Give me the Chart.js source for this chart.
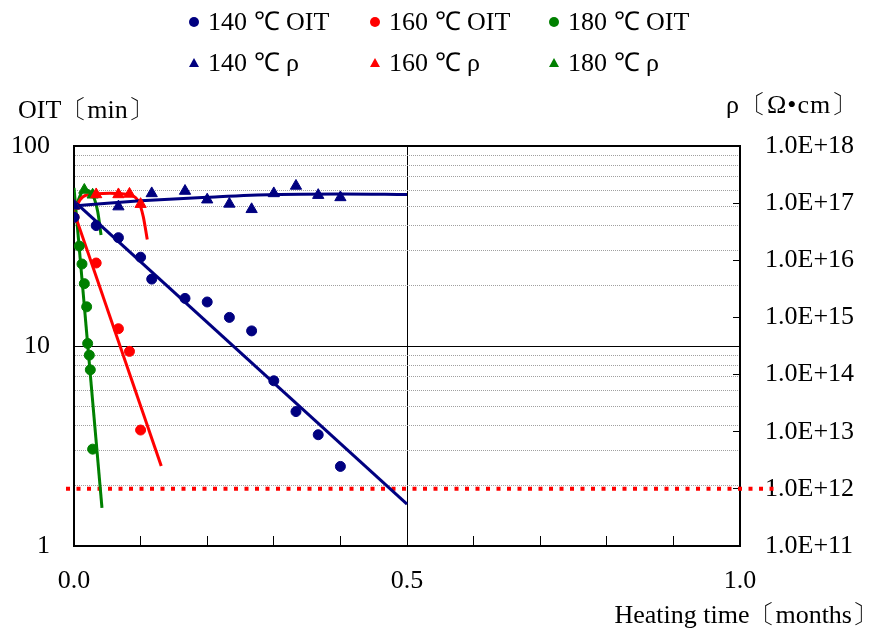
<!DOCTYPE html>
<html>
<head>
<meta charset="utf-8">
<script src="https://cdn.jsdelivr.net/npm/chart.js@4.4.1/dist/chart.umd.min.js"></script>
<style>
  html, body { margin: 0; padding: 0; background: #fff; }
  #wrap { position: relative; width: 871px; height: 631px; overflow: hidden; }
  #c { position: absolute; left: 0; top: 0; }
  .txt { position: absolute; font-family: 'Liberation Serif', 'Times New Roman', serif; font-size: 26px; color: #000; white-space: nowrap; line-height: 30px; }
  .mk { position: absolute; }
</style>
</head>
<body>
<div id="wrap">
  <canvas id="c" width="871" height="631"></canvas>
  <div id="legend"></div>
  <div class="txt" id="tL" style="left:18px; top:95px;"></div>
  <div class="txt" id="tR" style="left:726px; top:90px; letter-spacing:1px;"></div>
  <div class="txt" id="tX" style="right:-7px; top:600px;"></div>
</div>
<script>
// ---------- text ----------
const leftAxisTitle = 'OIT〔min〕';
const rightAxisTitle = 'ρ〔Ω•cm〕';
const xAxisTitle = 'Heating time〔months〕';

// ---------- ticks ----------
const xTickValues = [0, 0.1, 0.2, 0.3, 0.4, 0.5, 0.6, 0.7, 0.8, 0.9, 1.0];
const xLabelValues = [0, 0.5, 1.0];
const leftTickValues = [1, 2, 3, 4, 5, 6, 7, 8, 9, 10, 20, 30, 40, 50, 60, 70, 80, 90, 100];
const leftLabelValues = [1, 10, 100];
const rightTickValues = [1e11, 1e12, 1e13, 1e14, 1e15, 1e16, 1e17, 1e18];

// ---------- measured points (x in months) ----------
const oit140X = [0, 0.0333, 0.0667, 0.1, 0.1167, 0.1667, 0.2, 0.2333, 0.2667, 0.3, 0.3333, 0.3667, 0.4];
const oit140Y = [44, 40, 34.8, 27.8, 21.6, 17.3, 16.6, 13.9, 11.9, 6.7, 4.7, 3.6, 2.5];
const oit160X = [0, 0.0333, 0.0667, 0.0833, 0.1];
const oit160Y = [44, 26, 12.2, 9.4, 3.8];
const oit180X = [0, 0.008, 0.012, 0.0155, 0.019, 0.0205, 0.023, 0.0245, 0.028];
const oit180Y = [44, 31.6, 25.7, 20.5, 15.7, 10.3, 9.0, 7.6, 3.05];

const rho140X = [0, 0.0667, 0.1167, 0.1667, 0.2, 0.2333, 0.2667, 0.3, 0.3333, 0.3667, 0.4];
const rho140Y = [9e16, 8.7e16, 1.48e17, 1.63e17, 1.15e17, 9.7e16, 7.8e16, 1.48e17, 2.0e17, 1.38e17, 1.26e17];
const rho160X = [0, 0.0333, 0.0667, 0.0833, 0.1];
const rho160Y = [9e16, 1.42e17, 1.42e17, 1.45e17, 9.6e16];
const rho180X = [0, 0.0155, 0.028];
const rho180Y = [9e16, 1.7e17, 1.4e17];

// ---------- trend lines ----------
const fitOit140X = [0, 0.5];
const fitOit140Y = [53, 1.62];
const fitOit160X = [0, 0.131];
const fitOit160Y = [46.8, 2.51];
const fitOit180X = [0, 0.042];
const fitOit180Y = [61.7, 1.55];
const fitRho140X = [0, 0.05, 0.1, 0.2, 0.3, 0.4, 0.5];
const fitRho140Y = [8.9e16, 1.0e17, 1.1e17, 1.27e17, 1.42e17, 1.45e17, 1.41e17];
const fitRho160X = [0, 0.009, 0.019, 0.054, 0.084, 0.097, 0.104, 0.110];
const fitRho160Y = [6.6e16, 1.14e17, 1.39e17, 1.49e17, 1.39e17, 1.06e17, 5.8e16, 2.3e16];
const fitRho180X = [0, 0.0155, 0.028, 0.0356, 0.0406];
const fitRho180Y = [7.1e16, 1.7e17, 1.39e17, 7.1e16, 2.77e16];

// threshold (right axis)
const thresholdX = [-0.012, 1.058];
const thresholdValue = 1e12;

// ---------- series names / colours ----------
const seriesLabels = ['140 ℃ OIT', '160 ℃ OIT', '180 ℃ OIT', '140 ℃ ρ', '160 ℃ ρ', '180 ℃ ρ'];
const NAVY = '#000080', RED = '#FF0000', GREEN = '#008000';
const FONT = "'Liberation Serif', 'Times New Roman', serif";

const pts = (xs, ys) => xs.map((x, i) => ({x: x, y: ys[i]}));

function markerSet(label, xs, ys, color, axis, style) {
  return {
    label: label, data: pts(xs, ys), yAxisID: axis, showLine: false,
    pointStyle: style, pointRadius: style === 'triangle' ? 6.5 : 5,
    backgroundColor: color, borderColor: color, borderWidth: 1, order: 1
  };
}
function lineSet(xs, ys, color, axis, smooth) {
  return {
    label: '', data: pts(xs, ys), yAxisID: axis, showLine: true, pointRadius: 0,
    borderColor: color, backgroundColor: color, borderWidth: 3, fill: false,
    cubicInterpolationMode: smooth ? 'monotone' : 'default', tension: smooth ? 0.4 : 0,
    order: 2, isTrend: true
  };
}

const datasets = [
  markerSet(seriesLabels[0], oit140X, oit140Y, NAVY, 'yL', 'circle'),
  markerSet(seriesLabels[1], oit160X, oit160Y, RED, 'yL', 'circle'),
  markerSet(seriesLabels[2], oit180X, oit180Y, GREEN, 'yL', 'circle'),
  markerSet(seriesLabels[3], rho140X, rho140Y, NAVY, 'yR', 'triangle'),
  markerSet(seriesLabels[4], rho160X, rho160Y, RED, 'yR', 'triangle'),
  markerSet(seriesLabels[5], rho180X, rho180Y, GREEN, 'yR', 'triangle'),
  lineSet(fitOit140X, fitOit140Y, NAVY, 'yL', false),
  lineSet(fitOit160X, fitOit160Y, RED, 'yL', false),
  lineSet(fitOit180X, fitOit180Y, GREEN, 'yL', false),
  lineSet(fitRho140X, fitRho140Y, NAVY, 'yR', true),
  lineSet(fitRho160X, fitRho160Y, RED, 'yR', true),
  lineSet(fitRho180X, fitRho180Y, GREEN, 'yR', true),
  {
    label: '', data: thresholdX.map(x => ({x: x, y: thresholdValue})), yAxisID: 'yR',
    showLine: true, pointRadius: 0, borderColor: RED, borderWidth: 4,
    borderDash: [4, 6.5], borderCapStyle: 'butt', clip: false, order: 3, isTrend: true
  }
];

const near = (a, b) => Math.abs(a - b) < 1e-9 * Math.max(1, Math.abs(b));
const isIn = (arr, v) => arr.some(a => near(v, a));

const chart = new Chart(document.getElementById('c'), {
  type: 'scatter',
  data: { datasets: datasets },
  options: {
    responsive: false, animation: false, devicePixelRatio: 1, events: [],
    layout: { padding: { top: 146, left: 0, right: 0, bottom: 0 } },
    plugins: { legend: { display: false }, tooltip: { enabled: false } },
    scales: {
      x: {
        type: 'linear', position: 'bottom', min: 0, max: 1,
        afterBuildTicks: s => { s.ticks = xTickValues.map(v => ({value: v})); },
        afterFit: s => { s.height = 85; },
        ticks: {
          autoSkip: false, maxRotation: 0, color: '#000', padding: 30,
          font: { family: FONT, size: 26 },
          callback: v => isIn(xLabelValues, v) ? v.toFixed(1) : ''
        },
        grid: {
          color: c => (c.tick && near(c.tick.value, 0.5)) ? '#000' : 'rgba(0,0,0,0)',
          lineWidth: 1, tickColor: '#000', tickWidth: 1, tickLength: -10, drawTicks: true
        },
        border: { color: '#000', width: 2 }
      },
      yL: {
        type: 'logarithmic', position: 'left', min: 1, max: 100,
        afterBuildTicks: s => { s.ticks = leftTickValues.map(v => ({value: v, major: leftLabelValues.includes(v)})); },
        afterFit: s => { s.width = 74; },
        ticks: {
          autoSkip: false, color: '#000', padding: 24,
          font: { family: FONT, size: 26 },
          callback: v => isIn(leftLabelValues, v) ? String(v) : ''
        },
        grid: {
          drawTicks: false,
          color: c => {
            if (!c.tick) return '#000';
            const v = c.tick.value;
            if (near(v, 1)) return 'rgba(0,0,0,0)';
            if (near(v, 10) || near(v, 100)) return '#000';
            return '#a0a0a0';
          },
          lineWidth: c => (c.tick && near(c.tick.value, 100)) ? 2 : 1
        },
        border: {
          color: '#000', width: 2,
          dash: c => (!c.tick || isIn(leftLabelValues, c.tick.value)) ? [] : [1, 1]
        }
      },
      yR: {
        type: 'logarithmic', position: 'right', min: 1e11, max: 1e18,
        afterBuildTicks: s => { s.ticks = rightTickValues.map(v => ({value: v, major: true})); },
        afterFit: s => { s.width = 131; },
        ticks: {
          autoSkip: false, color: '#000', padding: 32,
          font: { family: FONT, size: 26 },
          callback: v => '1.0E+' + Math.round(Math.log10(v))
        },
        grid: {
          drawOnChartArea: false, drawTicks: true, tickLength: -7,
          tickColor: '#000', tickWidth: 1
        },
        border: { color: '#000', width: 2 }
      }
    }
  }
});

// ---------- HTML legend built from the chart's datasets ----------
const legendCols = [194, 375, 554];
const legendRows = [22, 63];
const legendEl = document.getElementById('legend');
chart.data.datasets.forEach((ds, i) => {
  if (ds.isTrend) return;
  const col = i % 3, row = Math.floor(i / 3);
  const cx = legendCols[col], cy = legendRows[row];
  const mk = document.createElement('div');
  mk.className = 'mk';
  if (ds.pointStyle === 'circle') {
    Object.assign(mk.style, { left: (cx - 5) + 'px', top: (cy - 5) + 'px', width: '10px', height: '10px', borderRadius: '50%', background: ds.backgroundColor });
  } else {
    Object.assign(mk.style, { left: (cx - 5) + 'px', top: (cy - 5) + 'px', width: '0', height: '0',
      borderLeft: '5px solid transparent', borderRight: '5px solid transparent', borderBottom: '9px solid ' + ds.backgroundColor });
  }
  legendEl.appendChild(mk);
  const t = document.createElement('div');
  t.className = 'txt';
  t.style.left = (cx + 14) + 'px';
  t.style.top = (cy - 15) + 'px';
  t.textContent = ds.label;
  legendEl.appendChild(t);
});
document.getElementById('tL').textContent = leftAxisTitle;
document.getElementById('tR').textContent = rightAxisTitle;
document.getElementById('tX').textContent = xAxisTitle;
</script>
</body>
</html>
